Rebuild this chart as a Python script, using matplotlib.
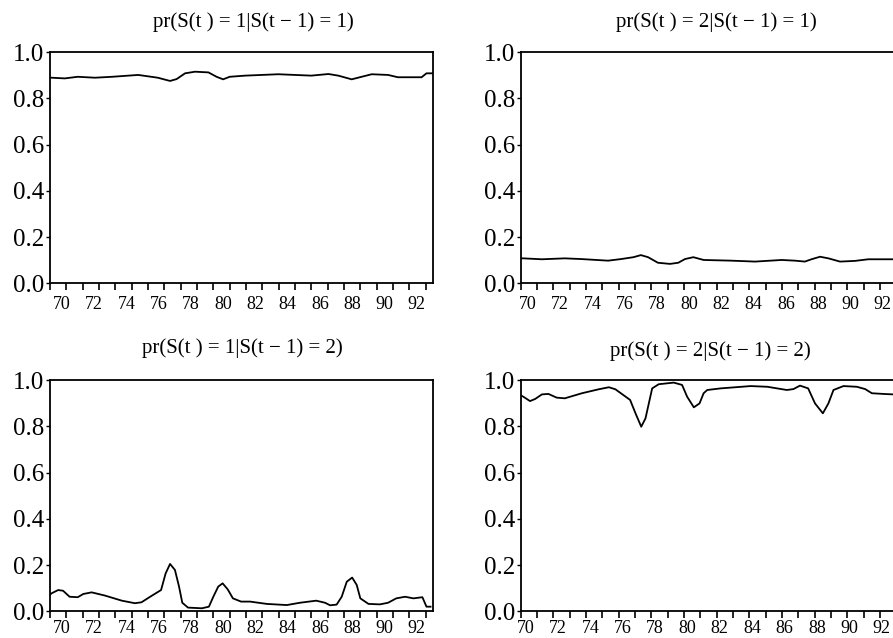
import numpy as np
import matplotlib
matplotlib.use("Agg")
import matplotlib.pyplot as plt

plt.rcParams['font.family'] = ['Liberation Serif', 'DejaVu Serif']

# pr(S(t)=1 | S(t-1)=1)
t11 = [1970.0, 1970.1, 1970.9, 1971.7, 1972.75, 1973.8, 1975.4, 1976.6, 1977.35, 1977.75,
       1978.27, 1978.88, 1979.7, 1980.2, 1980.6, 1981.0, 1981.95, 1983.98, 1986.0, 1987.05,
       1987.65, 1988.47, 1989.08, 1989.7, 1990.7, 1991.3, 1992.75, 1993.05, 1993.4]
p11 = [0.890, 0.890, 0.887, 0.894, 0.890, 0.894, 0.902, 0.890, 0.876, 0.884,
       0.909, 0.916, 0.913, 0.894, 0.883, 0.894, 0.899, 0.905, 0.899, 0.906,
       0.899, 0.883, 0.894, 0.905, 0.902, 0.892, 0.892, 0.909, 0.909]

# pr(S(t)=2 | S(t-1)=1)
t21 = [1970.0, 1970.16, 1971.3, 1972.7, 1973.7, 1975.35, 1976.15, 1976.9, 1977.36, 1977.8,
       1978.4, 1979.14, 1979.65, 1980.06, 1980.57, 1981.2, 1982.9, 1984.35, 1985.98, 1986.8,
       1987.4, 1987.8, 1988.33, 1988.84, 1989.55, 1990.47, 1991.28, 1992.7, 1993.4]
p21 = [0.108, 0.108, 0.104, 0.108, 0.105, 0.098, 0.105, 0.113, 0.122, 0.113,
       0.089, 0.084, 0.089, 0.105, 0.113, 0.101, 0.098, 0.094, 0.101, 0.098,
       0.094, 0.104, 0.115, 0.108, 0.094, 0.097, 0.104, 0.104, 0.104]

# pr(S(t)=1 | S(t-1)=2)
t12 = [1970.0, 1970.1, 1970.5, 1970.8, 1971.2, 1971.7, 1972.04, 1972.55, 1973.37, 1974.4,
       1975.2, 1975.6, 1976.2, 1976.8, 1977.08, 1977.35, 1977.65, 1977.9, 1978.1, 1978.45,
       1979.3, 1979.73, 1980.0, 1980.3, 1980.57, 1980.88, 1981.2, 1981.7, 1982.25, 1983.27,
       1984.5, 1985.3, 1986.3, 1986.84, 1987.15, 1987.55, 1987.86, 1988.17, 1988.5, 1988.78,
       1989.0, 1989.5, 1990.2, 1990.7, 1991.2, 1991.74, 1992.25, 1992.8, 1993.05, 1993.3]
p12 = [0.072, 0.078, 0.092, 0.089, 0.063, 0.061, 0.075, 0.082, 0.068, 0.046,
       0.035, 0.039, 0.066, 0.092, 0.164, 0.205, 0.179, 0.107, 0.037, 0.016,
       0.013, 0.020, 0.063, 0.107, 0.121, 0.095, 0.056, 0.042, 0.042, 0.032,
       0.027, 0.037, 0.046, 0.037, 0.026, 0.029, 0.063, 0.128, 0.146, 0.114,
       0.056, 0.032, 0.030, 0.037, 0.056, 0.063, 0.056, 0.061, 0.020, 0.020]

# pr(S(t)=2 | S(t-1)=2)
t22 = [1970.0, 1970.16, 1970.57, 1970.88, 1971.3, 1971.7, 1972.2, 1972.7, 1973.75, 1974.77,
       1975.4, 1975.8, 1976.7, 1977.03, 1977.38, 1977.64, 1978.05, 1978.45, 1979.37, 1979.88,
       1980.19, 1980.6, 1980.95, 1981.2, 1981.42, 1982.24, 1984.08, 1985.1, 1986.3, 1986.7,
       1987.1, 1987.6, 1988.02, 1988.5, 1988.84, 1989.15, 1989.76, 1990.58, 1991.09, 1991.5,
       1992.2, 1992.8, 1993.4]
p22 = [0.935, 0.929, 0.910, 0.919, 0.939, 0.941, 0.925, 0.922, 0.944, 0.961,
       0.970, 0.961, 0.915, 0.857, 0.799, 0.835, 0.965, 0.983, 0.990, 0.980,
       0.929, 0.883, 0.900, 0.944, 0.958, 0.965, 0.975, 0.972, 0.958, 0.962,
       0.977, 0.965, 0.900, 0.857, 0.900, 0.958, 0.975, 0.972, 0.962, 0.944,
       0.941, 0.939, 0.939]

titles = ["pr(S(t ) = 1|S(t \u2212 1) = 1)", "pr(S(t ) = 2|S(t \u2212 1) = 1)",
          "pr(S(t ) = 1|S(t \u2212 1) = 2)", "pr(S(t ) = 2|S(t \u2212 1) = 2)"]
series = [(t11, p11), (t21, p21), (t12, p12), (t22, p22)]

years = np.arange(1970, 1994)
label_years = np.arange(1970, 1993, 2)

fig = plt.figure(figsize=(8.93, 6.38), dpi=100)
W, H = 893.0, 638.0
boxes = [(50, 52.3), (520.7, 52.3), (50, 380.3), (520.7, 380.3)]
title_pos = [(253, 22), (716, 22), (242, 348), (710, 351)]
# labels sit a bit right of their year tick (scanned EViews style)
label_shift = [(0.73, 0.45), (0.45, 0.16), (0.73, 0.45), (0.3, 0.1)]
label_pad = [9, 9, 6, 6]

for (x0, y0), (tx, ty), title, (t, p), (s0, s1), pad in zip(
        boxes, title_pos, titles, series, label_shift, label_pad):
    ax = fig.add_axes([x0 / W, 1 - (y0 + 231) / H, 383 / W, 231 / H])
    ax.plot(t, p, color='black', lw=1.3)
    ax.set_xlim(1970, 1993.45)
    ax.set_ylim(0, 1)
    ax.set_yticks([0, 0.2, 0.4, 0.6, 0.8, 1.0])
    ax.set_yticklabels(["0.0", "0.2", "0.4", "0.6", "0.8", "1.0"])
    ax.set_xticks(years)
    ax.set_xticklabels([])
    ax.set_xticks(label_years + np.linspace(s0, s1, len(label_years)), minor=True)
    ax.set_xticklabels([str(y % 100) for y in label_years], minor=True)
    ax.tick_params(axis='x', which='major', direction='out', length=5, width=1.2)
    ax.tick_params(axis='x', which='minor', length=0, labelsize=13, pad=pad)
    ax.tick_params(axis='y', direction='out', length=3, width=1, labelsize=18, pad=1)
    for s in ax.spines.values():
        s.set_linewidth(1.3)
    fig.text(tx / W, 1 - ty / H, title, ha='center', va='center', fontsize=15)

fig.savefig("out.png", dpi=100)
